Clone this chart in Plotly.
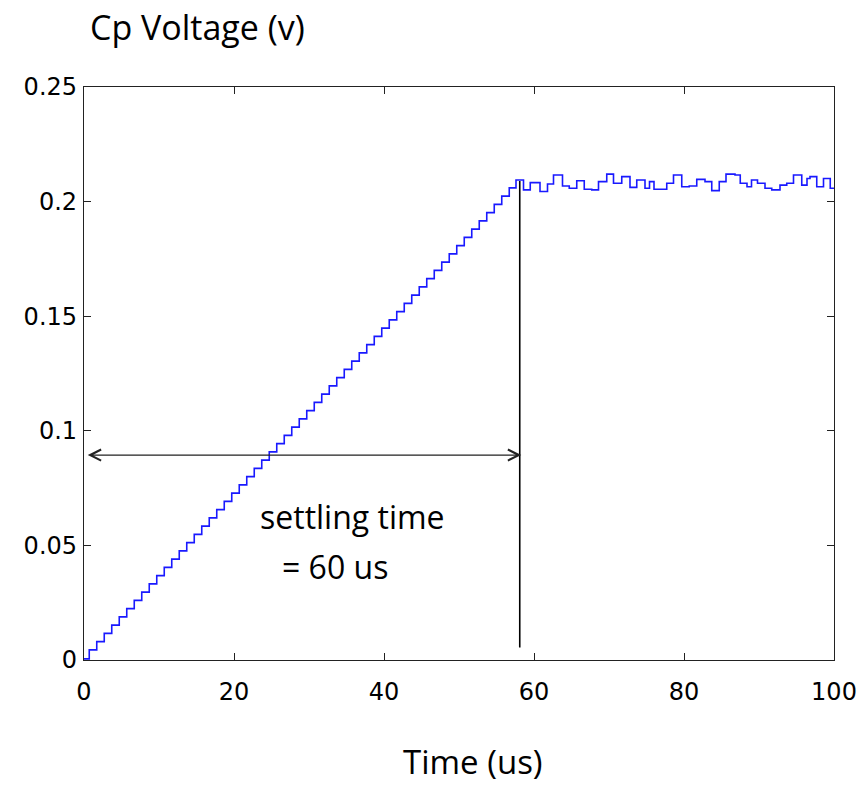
import plotly.graph_objects as go

# ---- data ----
# ramp: step start times (us) and levels (V)
ramp_t = [0, 0.7, 1.7, 2.7, 3.7, 4.7, 5.7, 6.7, 7.7, 8.7, 9.7,
          10.7, 11.7, 12.7, 13.7, 14.7, 15.7, 16.7, 17.7, 18.7, 19.7,
          20.7, 21.7, 22.7, 23.7, 24.7, 25.7, 26.7, 27.7, 28.7, 29.7,
          30.7, 31.7, 32.7, 33.7, 34.7, 35.7, 36.7, 37.7, 38.7, 39.7,
          40.7, 41.7, 42.7, 43.7, 44.7, 45.7, 46.7, 47.7, 48.7, 49.7,
          50.7, 51.7, 52.7, 53.7, 54.7, 55.7, 56.7, 57.6]
ramp_v = [0.0005, 0.0044, 0.0080, 0.0116, 0.0152, 0.0188, 0.0224, 0.0260, 0.0296, 0.0332, 0.0368,
          0.0404, 0.0440, 0.0476, 0.0512, 0.0548, 0.0584, 0.0620, 0.0656, 0.0692, 0.0728,
          0.0764, 0.0800, 0.0836, 0.0872, 0.0908, 0.0944, 0.0980, 0.1016, 0.1052, 0.1088,
          0.1124, 0.1160, 0.1196, 0.1232, 0.1268, 0.1304, 0.1340, 0.1376, 0.1412, 0.1448,
          0.1484, 0.1520, 0.1556, 0.1592, 0.1628, 0.1664, 0.1700, 0.1736, 0.1772, 0.1808,
          0.1844, 0.1880, 0.1916, 0.1952, 0.1988, 0.2024, 0.2060, 0.2094]
# plateau: step start times (us) and levels (V)
plat_t = [58.6, 59.5, 60.8, 61.8, 62.6, 63.8, 64.7, 65.7, 66.7, 67.7, 68.6, 69.7,
          70.6, 71.7, 72.8, 73.7, 74.8, 75.4, 76.0, 77.7, 78.6, 79.7, 80.7, 81.7,
          82.8, 83.7, 84.7, 85.6, 86.8, 87.5, 88.4, 89.0, 89.8, 90.8, 91.7, 92.8,
          93.7, 94.6, 95.7, 96.4, 96.8, 97.7, 98.6, 99.5, 100.0]
plat_v = [0.2051, 0.2083, 0.2044, 0.2077, 0.2116, 0.2068, 0.2058, 0.2091, 0.2054, 0.2051, 0.2087, 0.2120,
          0.2080, 0.2109, 0.2062, 0.2094, 0.2058, 0.2087, 0.2054, 0.2080, 0.2116, 0.2065, 0.2068, 0.2097,
          0.2087, 0.2048, 0.2087, 0.2120, 0.2116, 0.2080, 0.2065, 0.2094, 0.2080, 0.2058, 0.2051, 0.2072,
          0.2080, 0.2116, 0.2072, 0.2101, 0.2109, 0.2065, 0.2101, 0.2058, 0.2058]

settle_t = 58.1             # vertical marker position (us)
settle_v = [0.0054, 0.209]  # vertical marker extent (V)
arrow_v = 0.0894            # horizontal arrow level (V)
arrow_t = [0.3, 58.3]       # horizontal arrow extent (us)

x_ticks = [0, 20, 40, 60, 80, 100]
y_ticks = [0, 0.05, 0.1, 0.15, 0.2, 0.25]
y_tick_text = ["0", "0.05", "0.1", "0.15", "0.2", "0.25"]

t_all = ramp_t + plat_t
v_all = ramp_v + plat_v

fig = go.Figure()
fig.add_trace(go.Scatter(x=t_all, y=v_all, mode="lines", line_shape="hv",
                         line=dict(color="rgb(25,25,255)", width=1.6),
                         showlegend=False, hoverinfo="skip"))
fig.add_trace(go.Scatter(x=[settle_t, settle_t], y=settle_v, mode="lines",
                         line=dict(color="black", width=1.6),
                         showlegend=False, hoverinfo="skip"))

fig.add_annotation(x=arrow_t[1], y=arrow_v, ax=arrow_t[0], ay=arrow_v,
                   xref="x", yref="y", axref="x", ayref="y", text="",
                   showarrow=True, arrowside="end+start", arrowhead=5,
                   startarrowhead=5, arrowsize=1.8, startarrowsize=1.8,
                   arrowwidth=1.2, arrowcolor="#222")

txt_font = dict(family="Open Sans, Lato, sans-serif", size=32, color="black")
title_font = dict(family="Open Sans, Lato, sans-serif", size=34, color="black")
fig.add_annotation(x=352, y=516, xref="paper", yref="paper", text="settling time",
                   showarrow=False, font=txt_font)
fig.add_annotation(x=335, y=566, xref="paper", yref="paper", text="= 60 us",
                   showarrow=False, font=txt_font)
fig.add_annotation(x=197, y=27, xref="paper", yref="paper", text="Cp Voltage (v)",
                   showarrow=False, font=title_font)
fig.add_annotation(x=473, y=761, xref="paper", yref="paper", text="Time (us)",
                   showarrow=False, font=dict(family="Open Sans, Lato, sans-serif", size=33, color="black"))

W, H = 862, 785
# convert pixel positions for annotations to paper coordinates
L, R, T, B = 84, 28, 87, 125
pw, ph = W - L - R, H - T - B
for a in fig.layout.annotations:
    if a.xref == "paper":
        a.x = (a.x - L) / pw
        a.y = 1 - (a.y - T) / ph
        a.xanchor = "center"
        a.yanchor = "middle"

tick_font = dict(family="DejaVu Sans, Liberation Sans, sans-serif", size=24, color="black")
fig.update_xaxes(range=[0, 100], tickvals=x_ticks, ticks="inside", ticklen=7,
                 tickwidth=1.3, tickcolor="#222", showline=True, linecolor="#222",
                 linewidth=1.3, mirror="ticks", showgrid=False, zeroline=False,
                 ticklabelstandoff=10, tickfont=tick_font)
fig.update_yaxes(range=[0, 0.25], tickvals=y_ticks, ticktext=y_tick_text, ticks="inside",
                 ticklen=7, tickwidth=1.3, tickcolor="#222", showline=True,
                 linecolor="#222", linewidth=1.3, mirror="ticks", showgrid=False,
                 zeroline=False, ticklabelstandoff=1, tickfont=tick_font)
fig.update_layout(width=W, height=H, margin=dict(l=L, r=R, t=T, b=B, autoexpand=False),
                  plot_bgcolor="white", paper_bgcolor="white")
fig.write_html("out.html", config={"displayModeBar": False},
               post_script="document.body.style.margin='0';document.body.style.overflow='hidden';")
